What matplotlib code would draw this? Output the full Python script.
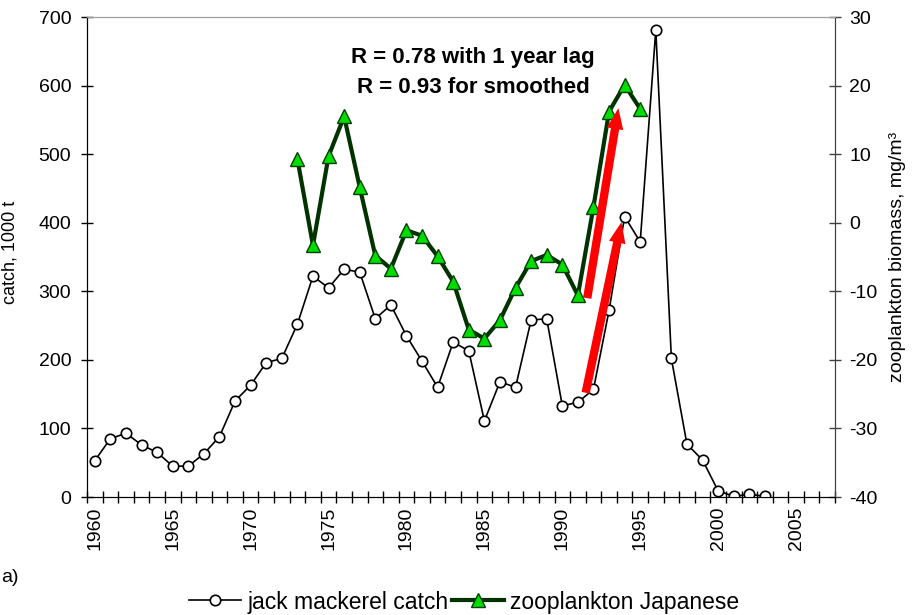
import numpy as np
import matplotlib
matplotlib.use("Agg")
from matplotlib import pyplot as plt
from matplotlib.ticker import MultipleLocator, FixedLocator

plt.rcParams['font.family'] = ['Liberation Sans', 'DejaVu Sans']
plt.rcParams['axes.unicode_minus'] = False

# jack mackerel catch, 1000 t (left axis)
catch_years = np.arange(1960, 2004)
catch = [53, 85, 93, 76, 65, 45, 45, 63, 88, 140,
         163, 196, 202, 252, 322, 305, 332, 328, 260, 280,
         235, 198, 160, 226, 213, 111, 168, 160, 258, 260,
         133, 138, 157, 272, 409, 372, 681, 202, 77, 54,
         9, 1, 4, 1]

# zooplankton biomass, mg/m3 (right axis)
zoo_years = np.arange(1973, 1996)
zoo = [9.3, -3.3, 9.7, 15.5, 5.2, -4.8, -6.7, -1.1, -1.9, -4.9,
       -8.6, -15.6, -16.9, -14.2, -9.5, -5.6, -4.7, -6.1, -10.6, 2.3,
       16.2, 20.1, 16.6]

# red arrows (year, catch) tail -> head
arrows = [((1991.6, 290), (1993.6, 567)),
          ((1991.5, 152), (1993.8, 401))]

fig = plt.figure(figsize=(9.18, 6.15), dpi=100)
ax = fig.add_axes([87/918, 1 - 497/615, 748/918, 480/615])
ax2 = ax.twinx()

ax.plot(catch_years, catch, color="black", linewidth=1.2, marker="o",
        markersize=7.5, markerfacecolor="white", markeredgecolor="black",
        markeredgewidth=1.2, label="jack mackerel catch", zorder=3)

ax2.plot(zoo_years, zoo, color="#003300", linewidth=3, marker="^",
         markersize=9.5, markerfacecolor="#00dd00", markeredgecolor="#004000",
         markeredgewidth=1.0, label="zooplankton Japanese", zorder=3)

for tail, head in arrows:
    ax2.annotate("", xy=head, xytext=tail, xycoords=ax.transData,
                 textcoords=ax.transData,
                 arrowprops=dict(arrowstyle="simple,head_length=1.5,head_width=1.2,tail_width=0.6",
                                 mutation_scale=10, color="#ff0000", lw=0,
                                 shrinkA=0, shrinkB=0), zorder=5)

ax.set_xlim(1959.5, 2007.5)
ax.set_ylim(0, 700)
ax2.set_ylim(-40, 30)

ax.yaxis.set_major_locator(MultipleLocator(100))
ax2.yaxis.set_major_locator(MultipleLocator(10))
ax.xaxis.set_major_locator(FixedLocator(np.arange(1960, 2006, 5)))
ax.xaxis.set_minor_locator(FixedLocator(np.arange(1959.5, 2008, 1)))
ax.set_xticklabels([str(y) for y in range(1960, 2006, 5)], rotation=90)

ax.tick_params(axis="x", which="major", length=0, pad=7, labelsize=14)
ax.tick_params(axis="x", which="minor", direction="inout", length=8, width=1)
ax.tick_params(axis="y", direction="inout", length=8.6, width=1, pad=7, labelsize=14)
ax2.tick_params(axis="y", direction="inout", length=8.6, width=1, pad=6,
                labelsize=14, color="#404040")

for a in (ax, ax2):
    a.spines["top"].set_color("#a0a0a0")
    a.spines["right"].set_color("#404040")
    a.spines["left"].set_color("black")
    a.spines["bottom"].set_color("black")

ax2.set_ylabel("zooplankton biomass, mg/m³", fontsize=14, labelpad=8)

ax2.text(0.516, 0.915, "R = 0.78 with 1 year lag", transform=ax.transAxes,
         ha="center", va="center", fontsize=16, fontweight="bold")
ax2.text(0.516, 0.853, "R = 0.93 for smoothed", transform=ax.transAxes,
         ha="center", va="center", fontsize=16, fontweight="bold")

# left label and panel letter
fig.text(19/918, 1 - 252/615, "catch, 1000 t", rotation=90, ha="right",
         va="center", fontsize=13)
fig.text(1/918, 1 - 578/615, "a)", ha="left", va="center", fontsize=14)

h1, l1 = ax.get_legend_handles_labels()
h2, l2 = ax2.get_legend_handles_labels()
fig.legend(h1 + h2, l1 + l2, loc="center", bbox_to_anchor=(464/918, 13/615),
           ncol=2, frameon=False, fontsize=16.5, handlelength=2.27,
           handletextpad=0.26, columnspacing=0.15, borderpad=0)

plt.savefig("out.png", dpi=100)
